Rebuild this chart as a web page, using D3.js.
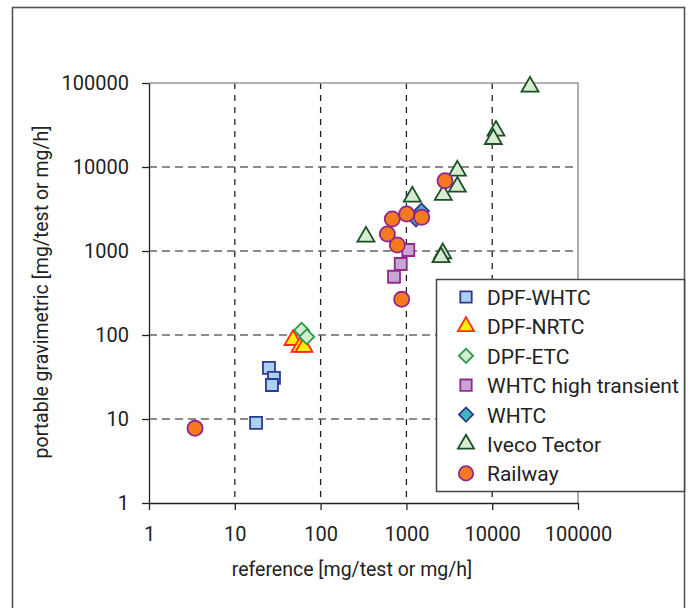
<!DOCTYPE html>
<meta charset="utf-8">
<style>
body { margin: 0; background: #fff; }
text { font-family: Roboto, "Noto Sans", sans-serif; fill: #222; }
.grid-v { stroke: #222; stroke-width: 1.3px; stroke-dasharray: 6,6; }
.grid-h { stroke: #666; stroke-width: 1.3px; stroke-dasharray: 8,5; }
.axis path, .axis line { stroke: #222; stroke-width: 1.3px; }
</style>
<body>
<script src="https://cdn.jsdelivr.net/npm/d3@7"></script>
<script>

// ticks on both log axes
var tickVals = [1, 10, 100, 1000, 10000, 100000];

// series data as [reference, portable gravimetric]
var dpfWhtc = [[25, 40.5], [28.6, 30.8], [27.1, 25.4], [17.7, 9]];
var dpfNrtc = [[47.7, 87], [57.5, 72], [64, 72]];
var dpfEtc = [[60, 114], [69, 95.5]];
var whtcHigh = [[1052, 1028], [859, 700], [717, 494]];
var whtc = [[1500, 2990], [1294, 2400]];
var iveco = [[338, 1480], [27600, 90300], [11070, 27000], [10300, 21500], [3925, 9040],
             [3925, 5820], [2692, 4640], [1172, 4430], [2650, 938], [2530, 841]];
var railway = [[3.44, 7.75], [881, 266], [783, 1178], [600, 1593], [2818, 6870],
               [685, 2404], [1008, 2756], [1507, 2518]];

var seriesNames = ["DPF-WHTC", "DPF-NRTC", "DPF-ETC", "WHTC high transient", "WHTC", "Iveco Tector", "Railway"];
var seriesData = [dpfWhtc, dpfNrtc, dpfEtc, whtcHigh, whtc, iveco, railway];

// marker look per series
var styles = [
  {shape: d3.symbolSquare, size: 144, rot: 0, fill: "#a9d1f2", stroke: "#2e3a8c"},
  {shape: d3.symbolTriangle, size: 125, rot: 0, fill: "#fff000", stroke: "#ff2a1a"},
  {shape: d3.symbolSquare, size: 112, rot: 45, fill: "#d6ecd2", stroke: "#2a9a48"},
  {shape: d3.symbolSquare, size: 144, rot: 0, fill: "#c6a7d4", stroke: "#932a8e"},
  {shape: d3.symbolSquare, size: 112, rot: 45, fill: "#3fb6c2", stroke: "#2e3a8c"},
  {shape: d3.symbolTriangle, size: 125, rot: 0, fill: "#d8ecd4", stroke: "#1d4f26"},
  {shape: d3.symbolCircle, size: 180, rot: 0, fill: "#f47a20", stroke: "#93278f"}
];

var width = 693, height = 608;
var plot = {left: 149, right: 578, top: 83, bottom: 503};

var svg = d3.select("body").append("svg")
    .attr("width", width)
    .attr("height", height);

// outer frame
svg.append("rect")
    .attr("x", 12.5).attr("y", 7.5)
    .attr("width", 672).attr("height", 620)
    .attr("fill", "#fff")
    .attr("stroke", "#555")
    .attr("stroke-width", 1.6);

var x = d3.scaleLog().domain([1, 100000]).range([plot.left, plot.right]);
var y = d3.scaleLog().domain([1, 100000]).range([plot.bottom, plot.top]);

// grid lines
svg.selectAll(".grid-v")
    .data(tickVals.slice(1, 5))
  .enter().append("line")
    .attr("class", "grid-v")
    .attr("x1", function(d) { return x(d); })
    .attr("x2", function(d) { return x(d); })
    .attr("y1", plot.top)
    .attr("y2", plot.bottom);

svg.selectAll(".grid-h")
    .data(tickVals.slice(1, 5))
  .enter().append("line")
    .attr("class", "grid-h")
    .attr("y1", function(d) { return y(d); })
    .attr("y2", function(d) { return y(d); })
    .attr("x1", plot.left)
    .attr("x2", plot.right);

// gray top and right border
svg.append("path")
    .attr("d", "M" + plot.left + "," + plot.top + "H" + plot.right + "V" + plot.bottom)
    .attr("fill", "none")
    .attr("stroke", "#999")
    .attr("stroke-width", 1.6);

// axes
svg.append("g")
    .attr("class", "axis")
    .attr("transform", "translate(0," + plot.bottom + ")")
    .call(d3.axisBottom(x).tickValues(tickVals).tickFormat(d3.format("d")).tickSize(7).tickSizeOuter(0).tickPadding(17))
    .call(function(g) { g.selectAll("text").style("font-size", "20px").attr("fill", "#222"); });

svg.append("g")
    .attr("class", "axis")
    .attr("transform", "translate(" + plot.left + ",0)")
    .call(d3.axisLeft(y).tickValues(tickVals).tickFormat(d3.format("d")).tickSize(7).tickSizeOuter(0).tickPadding(13))
    .call(function(g) { g.selectAll("text").style("font-size", "20px").attr("fill", "#222"); });

svg.append("text")
    .attr("x", 352).attr("y", 576)
    .attr("text-anchor", "middle")
    .style("font-size", "19.5px")
    .text("reference [mg/test or mg/h]");

svg.append("text")
    .attr("transform", "translate(48,292) rotate(-90)")
    .attr("text-anchor", "middle")
    .style("font-size", "19.5px")
    .text("portable gravimetric [mg/test or mg/h]");

// markers
seriesData.forEach(function(data, i) {
  var st = styles[i];
  var sym = d3.symbol().type(st.shape).size(st.size);
  svg.append("g").selectAll("path")
      .data(data)
    .enter().append("path")
      .attr("d", sym)
      .attr("transform", function(d) {
        return "translate(" + x(d[0]) + "," + y(d[1]) + ") rotate(" + st.rot + ")";
      })
      .attr("fill", st.fill)
      .attr("stroke", st.stroke)
      .attr("stroke-width", 1.8);
});

// legend
var legend = svg.append("g");
legend.append("rect")
    .attr("x", 436.5).attr("y", 279.5)
    .attr("width", 248).attr("height", 212)
    .attr("fill", "#fff")
    .attr("stroke", "#444")
    .attr("stroke-width", 1.5);

var rows = legend.selectAll(".row")
    .data(seriesNames)
  .enter().append("g")
    .attr("transform", function(d, i) { return "translate(466," + (297 + i * 29.4) + ")"; });

rows.append("path")
    .attr("d", function(d, i) { return d3.symbol().type(styles[i].shape).size(styles[i].size * 0.9)(); })
    .attr("transform", function(d, i) { return "rotate(" + styles[i].rot + ")"; })
    .attr("fill", function(d, i) { return styles[i].fill; })
    .attr("stroke", function(d, i) { return styles[i].stroke; })
    .attr("stroke-width", 1.8);

rows.append("text")
    .attr("x", 21).attr("y", 8)
    .style("font-size", "21px")
    .text(function(d) { return d; });

</script>
</body>
